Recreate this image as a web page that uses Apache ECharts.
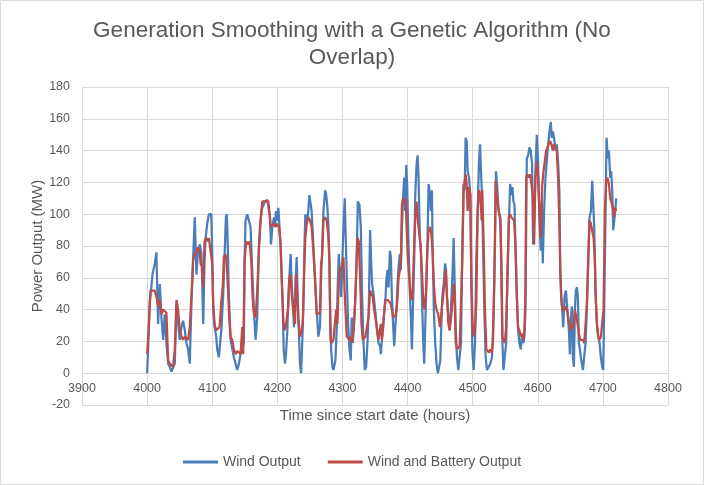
<!DOCTYPE html>
<html>
<head>
<meta charset="utf-8">
<script src="https://cdn.jsdelivr.net/npm/echarts@6/dist/echarts.min.js"></script>
<style>
html,body{margin:0;padding:0;background:#fff;}
#chart{width:704px;height:485px;}
</style>
</head>
<body>
<div id="chart"></div>
<script>
var titleText = 'Generation Smoothing with a Genetic Algorithm (No\nOverlap)';
var xAxisTitle = 'Time since start date (hours)';
var yAxisTitle = 'Power Output (MW)';
var seriesNames = ['Wind Output', 'Wind and Battery Output'];

var windHours = [4000,4001.5,4004.1,4006.7,4008.2,4011.8,4014.3,4016.9,4019.5,4022,4024.6,4027.1,4029.7,4032.3,4034.8,4037.4,4039.9,4042.5,4045.1,4047.6,4050.2,4052.7,4055.3,4057.9,4060.4,4063,4065.5,4068.1,4070.7,4073.2,4075.8,4078.3,4080.9,4083.5,
4086.2,4088.2,4089.8,4092.3,4094.9,4098.5,4100,4101.5,4103.6,4106.1,4107.7,4110.2,4112.8,4114.3,4116.9,4118.9,4121,4122.5,4124.1,4125.6,4128.2,4130.7,4133.3,4135.8,4138.4,4141,4143.5,4146.1,4148.6,4149.7,4151.2,4153.8,4156.3,4158.9,4161.4,4164,4166.6,4169.1,4171.7,4174.2,4176.8,
4181.1,4184.6,4187.2,4188.7,4190.3,4192.3,4194.9,4196.4,4198,4200,4201.5,4203.1,4205.1,4206.7,4208.2,4209.7,4211.8,4213.3,4215.4,4216.9,4218.4,4220.5,4222,4223.6,4225.6,4227.1,4229.7,4231.2,4233.3,4234.8,4236.4,4237.9,4239.9,4241.5,4243,4245.1,4247.6,4249.2,4251.2,4252.7,4255.3,4257.9,4260.4,4263,4265.5,
4267.2,4268.8,4270.8,4273.4,4274.9,4277,4278.5,4280,4281.1,4282.6,4284.6,4286.2,4287.2,4289.2,4291.3,4292.8,4294.4,4296.4,4298,4299.5,4301.5,4303.6,4304.6,4306.7,4308.7,4310.8,4312.8,4314.3,4315.9,4317.9,4320,4322,4323.6,4326.1,4328.2,4330.2,4332.3,4334.3,4336.4,4338.4,4340.4,4342.5,4344,4345.6,4347.6,4350.2,4352.7,4355.3,4357.9,
4359,4360.6,4362.6,4364.2,4366.2,4367.7,4369.3,4370.8,4372.9,4374.4,4375.9,4378,4379.5,4381.1,4383.1,4384.6,4386.2,4388.2,4389.8,4391.3,4393.3,4394.9,4396.4,4398,4399.5,4401.5,4403.6,4405.1,4406.7,4408.2,4410.2,4411.8,4413.8,4415.4,4416.9,4418.9,4420.5,4422,4424.1,4425.6,4427.1,4429.2,4430.7,4432.3,4434.3,4435.8,4437.4,4438.4,4440.4,4442.5,4444.5,4446.6,4448.6,
4450.3,4451.9,4453.4,4455.5,4457.6,4459.1,4460.6,4462.7,4464.7,4466.7,4468.8,4470.8,4472.4,4473.9,4475.9,4478,4480,4482.1,4484.1,4486.2,4487.7,4489.2,4490.8,4492.3,4494.4,4496.4,4497.9,4499.5,4501.5,4503.6,4505.6,4507.7,4509.7,4511.3,4512.8,4514.3,4515.9,4517.9,4520,4522,4524.6,4527.1,4529.7,4532.3,4534.3,4535.8,4537.4,4539.9,4542.5,
4544.2,4545.7,4547.3,4549.3,4551.4,4553.4,4555.5,4557.5,4559.6,4561.1,4562.6,4564.2,4565.7,4567.7,4569.8,4571.8,4573.9,4575.4,4578,4579.5,4581.1,4583.1,4585.2,4587.2,4589.2,4591.3,4592.8,4594.9,4596.4,4598.5,4600.5,4602.6,4604.6,4606.1,4607.7,4609.7,4611.8,4613.8,4615.9,4617.9,4620,4621.5,4623,4625.1,4627.1,4629.2,4631.2,4633.3,
4634.5,4636,4637.6,4639.1,4641.1,4643.2,4644.7,4646.3,4647.8,4649.3,4650.9,4652.4,4653.9,4655.5,4657,4658.5,4660.1,4661.6,4663.1,4664.7,4666.2,4667.7,4669.3,4671.3,4673.4,4675.4,4677.5,4679.5,4681.6,4683.6,4685.2,4686.7,4688.7,4690.8,4692.8,4694.9,4696.9,4699,4700.5,4702,4704.1,4705.6,4707.7,4709.2,4711.3,4712.8,4714.3,4715.9,4717.4,4718.9,4720.5];

var windMW = [0,15,45,55,62,69,76,31,56,35,21,37,19,6,4,1,0,6,44,31,21,29,33,27,19,15,6,44,73,98,62,77,81,75,
31,71,85,94,100,100,77,40,29,23,15,10,10,29,50,73,98,100,77,48,21,21,10,6,2,6,12,12,19,71,96,100,96,92,65,40,21,35,81,96,104,
108,109,108,98,81,92,98,92,102,96,104,94,79,60,44,15,6,12,27,48,60,75,56,44,29,48,73,50,23,6,0,15,40,77,100,94,102,112,112,102,81,60,40,23,29,
60,77,102,115,113,104,92,71,40,15,4,2,2,8,29,56,75,60,48,65,92,110,92,60,31,15,8,35,19,31,48,75,108,106,92,48,19,2,4,19,40,90,71,56,50,40,29,19,17,
12,21,29,40,48,60,65,54,77,73,48,29,17,29,40,56,67,75,65,92,112,123,102,131,117,81,50,35,15,40,71,112,131,137,123,85,77,50,19,6,29,60,85,119,112,102,115,81,40,19,6,0,0,
8,31,48,56,69,65,48,35,27,40,60,85,56,29,10,2,2,19,81,119,115,148,146,127,123,112,60,15,2,19,71,102,133,144,127,112,81,40,10,2,2,6,10,40,81,127,119,102,98,
56,19,2,2,19,60,92,119,112,117,108,106,81,50,27,19,15,23,19,23,40,135,137,142,140,131,81,102,127,150,133,96,77,108,69,102,123,133,144,152,158,148,152,148,140,144,133,113,
65,48,40,29,48,52,44,44,27,12,35,42,10,4,40,52,54,48,19,15,10,6,2,2,19,40,71,98,102,121,106,92,50,31,23,19,10,4,2,40,102,148,135,140,123,127,115,90,96,102,110];

var battHours = [4000,4002.6,4005.1,4011.8,4014.3,4016.9,4019.5,4022,4024.6,4027.1,4029.7,4032.3,4034.8,4037.4,4039.9,4042.5,4045.1,4047.6,4050.2,4052.7,4055.3,4057.9,4060.4,4063,4065.5,4068.1,4070.7,4073.2,4075.8,4078.3,4080.9,
4082.1,4084.6,4086.2,4088.2,4091.3,4093.3,4094.9,4097.4,4100,4101.5,4103.6,4106.1,4108.7,4111.3,4113.8,4116.4,4117.9,4120,4122,4124.1,4126.1,4128.2,4130.7,4133.3,4135.8,4138.4,4141,4143.5,4146.1,4147.6,4149.7,4152.2,4154.8,4157.3,4159.9,4162,4164,4166.6,4169.1,4171.7,4174.2,4176.8,
4181.1,4186.2,4187.7,4189.8,4192.3,4194.9,4197.4,4200,4202.6,4205.1,4206.7,4208.2,4209.2,4210.8,4212.8,4215.4,4216.9,4218.4,4220.5,4222,4224.6,4227.1,4228.7,4230.7,4232.3,4234.8,4237.4,4238.9,4241,4243,4245.1,4247.6,4250.2,4252.7,4255.3,4257.9,4260.4,4263,4265.5,
4267.2,4268.8,4270.8,4273.4,4275.9,4278.5,4280,4281.6,4283.6,4286.2,4288.7,4290.3,4292.3,4294.4,4296.4,4299,4301.5,4303.1,4304.6,4306.7,4308.7,4310.8,4312.8,4314.8,4316.9,4318.9,4321,4323,4325.1,4327.1,4329.2,4331.2,4333.3,4335.3,4337.4,4339.9,4342.5,4344.5,4346.6,4348.6,4350.7,4352.7,4355.3,4357.9,
4359,4360.6,4362.6,4364.7,4366.2,4367.7,4369.8,4371.8,4373.9,4375.9,4378,4380,4382.1,4384.1,4386.2,4388.2,4389.8,4391.3,4393.3,4395.4,4397.4,4398.5,4400.5,4402.6,4404.6,4406.7,4408.2,4410.2,4411.8,4413.8,4415.9,4417.9,4419.9,4422,4424.1,4426.1,4428.2,4430.2,4432.3,4434.3,4436.4,4438.4,4440.4,4442.5,4444.5,4447.1,4449.7,
4450.3,4452.4,4454.5,4456.5,4458.6,4460.6,4462.7,4464.7,4466.7,4468.8,4470.8,4472.4,4473.9,4475.9,4478,4480,4482.1,4484.1,4486.2,4487.7,4489.2,4490.8,4492.3,4494.4,4496.4,4497.9,4500,4501.5,4503.6,4505.6,4507.7,4509.7,4511.8,4513.8,4514.8,4516.9,4518.9,4521,4523,4525.1,4527.1,4529.2,4531.2,4533.3,4535.3,4537.4,4539.9,4542.5,
4544.2,4545.7,4547.3,4549.3,4551.4,4553.4,4555.5,4557.5,4559.6,4561.6,4563.6,4565.7,4567.7,4569.8,4571.8,4573.9,4575.4,4578,4579.5,4581.1,4582.1,4584.1,4586.2,4588.2,4590.3,4592.3,4594.4,4596.4,4598.5,4600.5,4602.6,4604.6,4606.7,4608.7,4610.8,4612.8,4614.8,4616.9,4618.9,4621,4623,4625.1,4627.1,4629.2,4631.2,4633.3,
4634.5,4636,4637.6,4639.1,4641.1,4643.2,4644.7,4646.8,4648.8,4650.9,4652.9,4654.9,4657,4659,4661.1,4663.1,4665.2,4667.2,4669.3,4671.3,4673.4,4675.4,4677.5,4679.5,4681.6,4683.6,4685.7,4687.7,4688.7,4690.8,4692.8,4694.9,4696.9,4699,4701,4703.1,4705.1,4707.2,4709.2,4711.3,4713.3,4715.4,4717.4,4718.9,4720.5];

var battMW = [12,29,52,52,48,42,46,37,40,40,38,8,6,5,4,15,46,40,27,23,21,23,23,21,29,48,71,75,77,79,77,
69,67,54,83,85,83,85,77,69,44,31,27,27,29,44,56,73,75,71,54,35,23,21,15,12,14,15,12,29,12,71,83,81,83,71,48,37,35,52,77,96,108,
108,108,102,92,92,94,92,94,92,81,60,44,33,27,29,37,42,60,62,50,40,31,62,48,33,23,27,31,60,85,94,98,96,92,77,58,37,37,38,
69,73,96,98,96,85,69,21,19,21,21,40,31,58,65,67,73,54,40,23,23,21,23,19,27,40,62,85,83,60,31,21,21,23,23,35,52,52,48,40,35,29,21,21,
31,21,31,40,46,46,46,46,44,40,35,35,37,44,60,65,71,106,110,110,108,92,71,60,48,46,56,81,98,108,96,88,81,65,46,40,50,75,90,92,88,77,56,44,40,37,29,
29,40,48,56,65,48,31,27,35,44,56,48,19,15,15,17,17,71,117,121,125,119,102,117,112,60,31,23,27,44,102,115,112,96,115,81,40,15,15,13,15,13,19,60,121,110,102,96,
71,23,21,19,29,60,98,100,98,98,96,81,50,29,27,23,25,21,27,50,123,125,123,125,119,112,81,123,133,123,102,85,117,127,133,140,142,144,146,144,140,144,142,140,123,92,
65,48,40,40,40,42,40,35,31,27,31,29,40,40,31,25,21,21,21,19,31,44,71,96,94,94,85,71,52,31,23,21,23,23,40,102,121,123,119,110,110,104,98,104,102];

function pairs(xs, ys) {
  var out = [];
  for (var i = 0; i < xs.length; i++) out.push([xs[i], ys[i]]);
  return out;
}

var FONT = '"Liberation Sans", Arial, sans-serif';
var TXT = '#595959';
var GRID = '#d9d9d9';

var chart = echarts.init(document.getElementById('chart'), null, {renderer: 'canvas'});
chart.setOption({
  backgroundColor: '#ffffff',
  animation: false,
  textStyle: {fontFamily: FONT},
  graphic: [{
    type: 'rect',
    shape: {x: 0.5, y: 0.5, width: 703, height: 484},
    style: {fill: 'none', stroke: GRID, lineWidth: 1},
    silent: true
  }],
  title: {
    text: titleText,
    left: 'center',
    top: 13,
    textStyle: {fontFamily: FONT, fontSize: 22.5, fontWeight: 'normal', color: TXT, lineHeight: 26.5}
  },
  legend: {
    data: seriesNames,
    left: 'center',
    top: 450,
    icon: 'rect',
    itemWidth: 35,
    itemHeight: 3,
    itemGap: 27,
    textStyle: {fontFamily: FONT, fontSize: 14, color: TXT}
  },
  grid: {left: 82, right: 36, top: 87, bottom: 80},
  xAxis: {
    type: 'value',
    min: 3900,
    max: 4800,
    interval: 100,
    offset: -32,
    name: xAxisTitle,
    nameLocation: 'middle',
    nameGap: 35,
    nameMoveOverlap: false,
    nameTextStyle: {fontFamily: FONT, fontSize: 15, color: TXT},
    axisLine: {show: true, onZero: false, lineStyle: {color: GRID, width: 1}},
    axisTick: {show: false},
    axisLabel: {fontFamily: FONT, fontSize: 12.5, color: TXT, margin: 9,
      formatter: function (v) { return String(v); }},
    splitLine: {show: true, lineStyle: {color: GRID, width: 1}}
  },
  yAxis: {
    type: 'value',
    min: -20,
    max: 180,
    interval: 20,
    name: yAxisTitle,
    nameLocation: 'middle',
    nameGap: 37,
    nameMoveOverlap: false,
    nameTextStyle: {fontFamily: FONT, fontSize: 15, color: TXT},
    axisLine: {show: false, onZero: false},
    axisTick: {show: false},
    axisLabel: {fontFamily: FONT, fontSize: 12.5, color: TXT, margin: 12},
    splitLine: {show: true, lineStyle: {color: GRID, width: 1}}
  },
  series: [
    {
      name: seriesNames[0],
      type: 'line',
      data: pairs(windHours, windMW),
      showSymbol: false,
      symbol: 'none',
      lineStyle: {color: '#4A7EBB', width: 2.25},
      itemStyle: {color: '#4A7EBB'},
      z: 2
    },
    {
      name: seriesNames[1],
      type: 'line',
      data: pairs(battHours, battMW),
      showSymbol: false,
      symbol: 'none',
      lineStyle: {color: '#BE4B48', width: 2.25},
      itemStyle: {color: '#BE4B48'},
      z: 3
    }
  ]
});
</script>
</body>
</html>
